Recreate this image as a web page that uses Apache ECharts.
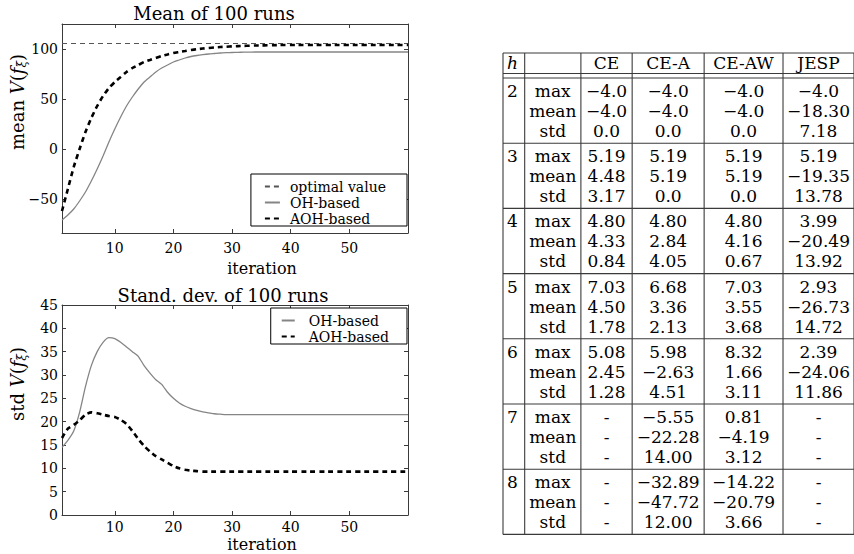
<!DOCTYPE html>
<html>
<head>
<meta charset="utf-8">
<script src="https://cdn.jsdelivr.net/npm/echarts@6/dist/echarts.min.js"></script>
<style>
html, body { margin: 0; padding: 0; background: #fff; }
#chart { width: 854px; height: 554px; }
</style>
</head>
<body>
<div id="chart"></div>
<script>
// values per iteration (1..60)
let meanOH = [-71, -66, -60, -52, -43, -32, -20, -7, 7, 20,
    32, 43, 52, 60, 67, 72, 77, 81, 84, 87,
    89, 91, 92.5, 93.5, 94.3, 95, 95.5, 96, 96.3, 96.5,
    96.7, 96.8, 96.9, 97, 97, 97, 97, 97, 97, 97,
    97, 97, 97, 97, 97, 97, 97, 97, 97, 97,
    97, 97, 97, 97, 97, 97, 97, 97, 97, 97];
let meanAOH = [-62, -40, -18, 0, 17, 31, 43, 53, 61, 67,
    72, 77, 81, 84, 87, 89, 91, 93, 94.5, 96,
    97, 98, 99, 99.8, 100.5, 101, 101.5, 102, 102.3, 102.6,
    102.9, 103.1, 103.3, 103.5, 103.6, 103.7, 103.8, 103.9, 104, 104,
    104, 104, 104, 104, 104, 104, 104, 104, 104, 104,
    104, 104, 104, 104, 104, 104, 104, 104, 104, 104];
let optimalValue = 105.5;
let stdOH = [14.5, 16, 18, 22, 27.5, 32, 35, 37, 38, 37.8,
    37, 36, 35, 34, 32, 30.4, 29, 28, 26.3, 25,
    24, 23.3, 22.8, 22.4, 22.1, 21.9, 21.7, 21.6, 21.5, 21.5,
    21.5, 21.5, 21.5, 21.5, 21.5, 21.5, 21.5, 21.5, 21.5, 21.5,
    21.5, 21.5, 21.5, 21.5, 21.5, 21.5, 21.5, 21.5, 21.5, 21.5,
    21.5, 21.5, 21.5, 21.5, 21.5, 21.5, 21.5, 21.5, 21.5, 21.5];
let stdAOH = [16.5, 18.5, 19.3, 20.3, 21.5, 22, 21.8, 21.5, 21.2, 21,
    20.4, 19.5, 18, 16.3, 14.8, 13.6, 12.6, 11.9, 11.2, 10.5,
    10, 9.7, 9.5, 9.4, 9.3, 9.3, 9.3, 9.3, 9.3, 9.3,
    9.3, 9.3, 9.3, 9.3, 9.3, 9.3, 9.3, 9.3, 9.3, 9.3,
    9.3, 9.3, 9.3, 9.3, 9.3, 9.3, 9.3, 9.3, 9.3, 9.3,
    9.3, 9.3, 9.3, 9.3, 9.3, 9.3, 9.3, 9.3, 9.3, 9.3];
let xTicks = [10, 20, 30, 40, 50];
let meanTicks = [-50, 0, 50, 100];

// table
let tableHead = ['h', '', 'CE', 'CE-A', 'CE-AW', 'JESP'];
let horizons = ['2', '3', '4', '5', '6', '7', '8'];
let statNames = ['max', 'mean', 'std'];
let colCE = ['-4.0', '-4.0', '0.0', '5.19', '4.48', '3.17', '4.80', '4.33', '0.84',
    '7.03', '4.50', '1.78', '5.08', '2.45', '1.28', null, null, null, null, null, null];
let colCEA = ['-4.0', '-4.0', '0.0', '5.19', '5.19', '0.0', '4.80', '2.84', '4.05',
    '6.68', '3.36', '2.13', '5.98', '-2.63', '4.51', '-5.55', '-22.28', '14.00', '-32.89', '-47.72', '12.00'];
let colCEAW = ['-4.0', '-4.0', '0.0', '5.19', '5.19', '0.0', '4.80', '4.16', '0.67',
    '7.03', '3.55', '3.68', '8.32', '1.66', '3.11', '0.81', '-4.19', '3.12', '-14.22', '-20.79', '3.66'];
let colJESP = ['-4.0', '-18.30', '7.18', '5.19', '-19.35', '13.78', '3.99', '-20.49', '13.92',
    '2.93', '-26.73', '14.72', '2.39', '-24.06', '11.86', null, null, null, null, null, null];

const FONT = '"DejaVu Serif"';
const BOX = '#3a3a3a';

// table layout (units = px inside the table grid)
const colEdges = [0, 22, 79, 131, 204, 284, 356];
const headH = 20.5, bodyTop = 25, groupH = 65.2, rowOff = [13, 33, 53];
const tableH = bodyTop + groupH * horizons.length;

function pairs(arr) {
    return arr.map((v, i) => [i + 1, v]);
}
function fmt(s) {
    if (s === null) return '-';
    return s.replace('-', '\u2212');
}
function colMid(c) {
    return (colEdges[c] + colEdges[c + 1]) / 2;
}

// table cells
let cells = [];
tableHead.forEach((t, c) => {
    if (!t) return;
    if (c === 0) cells.push({x: 4, y: headH / 2, text: t, align: 'left', italic: true});
    else cells.push({x: colMid(c), y: headH / 2, text: t, align: 'center'});
});
let valueCols = [colCE, colCEA, colCEAW, colJESP];
horizons.forEach((h, g) => {
    let top = bodyTop + g * groupH;
    cells.push({x: 4, y: top + rowOff[0], text: h, align: 'left'});
    statNames.forEach((s, r) => {
        let y = top + rowOff[r];
        let k = g * 3 + r;
        cells.push({x: colMid(1), y: y, text: s, align: 'center'});
        valueCols.forEach((col, c) => {
            cells.push({x: colMid(c + 2), y: y, text: fmt(col[k]), align: 'center'});
        });
    });
});

// table rules
let rules = [];
[0, headH, bodyTop].forEach(y => rules.push([0, y, colEdges[colEdges.length - 1], y]));
for (let g = 1; g <= horizons.length; g++) {
    let y = bodyTop + g * groupH;
    rules.push([0, y, colEdges[colEdges.length - 1], y]);
}
colEdges.forEach(x => rules.push([x, 0, x, tableH]));

function boxAxes(gridIndex, opts) {
    let common = {
        gridIndex: gridIndex,
        type: 'value',
        axisLine: {show: true, onZero: false, lineStyle: {color: BOX, width: 1}},
        splitLine: {show: false}
    };
    let ticks = (vals) => Object.assign({inside: true, length: 4, lineStyle: {color: BOX}}, vals ? {customValues: vals} : {});
    let xs = [
        Object.assign({}, common, {
            position: 'bottom', min: 1, max: 60,
            axisTick: ticks(xTicks),
            axisLabel: {customValues: xTicks, color: '#000', fontSize: 14, fontFamily: FONT, margin: opts.xMargin}
        }),
        Object.assign({}, common, {
            position: 'top', min: 1, max: 60,
            axisTick: ticks(xTicks),
            axisLabel: {show: false}
        })
    ];
    let yTickVals = opts.yTicks;
    let yBase = {min: opts.ymin, max: opts.ymax};
    if (opts.interval) yBase.interval = opts.interval;
    let ys = [
        Object.assign({}, common, yBase, {
            position: 'left',
            axisTick: ticks(yTickVals),
            axisLabel: Object.assign({
                color: '#000', fontSize: 14, fontFamily: FONT, margin: 4,
                formatter: v => String(v).replace('-', '\u2212')
            }, yTickVals ? {customValues: yTickVals} : {})
        }),
        Object.assign({}, common, yBase, {
            position: 'right',
            axisTick: ticks(yTickVals),
            axisLabel: {show: false}
        })
    ];
    return {xs: xs, ys: ys};
}

let a0 = boxAxes(0, {ymin: -84, ymax: 125, yTicks: meanTicks, xMargin: 8});
let a1 = boxAxes(1, {ymin: 0, ymax: 45, interval: 5, xMargin: 5});

let chart = echarts.init(document.getElementById('chart'), null, {renderer: 'svg'});

let ohStyle = {color: '#858585', width: 1.3, type: 'solid'};
let aohStyle = {color: '#000', width: 2.6, type: [5, 4]};
let legendBase = {
    orient: 'vertical',
    selectedMode: false,
    backgroundColor: '#fff',
    borderColor: '#000',
    borderWidth: 1,
    borderRadius: 0,
    itemGap: 1,
    itemHeight: 15,
    itemStyle: {color: 'rgba(0,0,0,0)', borderWidth: 0, opacity: 0},
    lineStyle: {inactiveWidth: 1},
    textStyle: {fontFamily: FONT, fontSize: 14, color: '#000', lineHeight: 15, padding: [0, 0, 0, 5]}
};

let nameRich = {
    n: {fontFamily: FONT, fontSize: 18, color: '#000', lineHeight: 22},
    i: {fontFamily: FONT, fontSize: 18, fontStyle: 'italic', color: '#000', lineHeight: 22},
    s: {fontFamily: FONT, fontSize: 12, fontStyle: 'italic', color: '#000', lineHeight: 22, verticalAlign: 'bottom'}
};
function label(x, y, text, size, rot, rich) {
    return {
        type: 'text', x: x, y: y, rotation: rot || 0, silent: true,
        style: {
            text: text, rich: rich,
            font: size + 'px ' + FONT, fill: '#000',
            align: 'center', verticalAlign: 'middle',
            textAlign: 'center', textVerticalAlign: 'middle'
        }
    };
}

chart.setOption({
    animation: false,
    textStyle: {fontFamily: FONT},
    grid: [
        {left: 62, top: 24, width: 346, height: 209},
        {left: 62, top: 305, width: 346, height: 210},
        {left: 503, top: 53, width: 356, height: tableH}
    ],
    xAxis: a0.xs.concat(a1.xs, [{gridIndex: 2, type: 'value', min: 0, max: colEdges[colEdges.length - 1], show: false}]),
    yAxis: a0.ys.concat(a1.ys, [{gridIndex: 2, type: 'value', min: 0, max: tableH, inverse: true, show: false}]),
    legend: [
        Object.assign({}, legendBase, {
            data: ['optimal value', 'OH-based', 'AOH-based'],
            right: 447, top: 174, itemWidth: 15,
            padding: [5, 21, 0, 13]
        }),
        Object.assign({}, legendBase, {
            data: ['OH-based', 'AOH-based'],
            right: 447, top: 308, itemWidth: 13,
            padding: [5, 18, 0, 10],
            textStyle: Object.assign({}, legendBase.textStyle, {padding: [0, 0, 0, 9]})
        })
    ],
    graphic: [
        label(214, 13, 'Mean of 100 runs', 18),
        label(223, 295, 'Stand. dev. of 100 runs', 18),
        label(262, 268, 'iteration', 16),
        label(262, 544, 'iteration', 16),
        label(17, 102, '{n|mean }{i|V}{n|(}{i|f}{s|\u03be}{n|)}', 18, Math.PI / 2, nameRich),
        label(17, 384, '{n|std }{i|V}{n|(}{i|f}{s|\u03be}{n|)}', 18, Math.PI / 2, nameRich)
    ],
    series: [
        {
            name: 'optimal value', type: 'line', xAxisIndex: 0, yAxisIndex: 0,
            data: [[1, optimalValue], [60, optimalValue]],
            symbol: 'none', itemStyle: {color: '#555'},
            lineStyle: {color: '#555', width: 1, type: [5, 4]}
        },
        {
            name: 'OH-based', type: 'line', xAxisIndex: 0, yAxisIndex: 0,
            data: pairs(meanOH), symbol: 'none', smooth: 0.2,
            itemStyle: {color: ohStyle.color}, lineStyle: ohStyle
        },
        {
            name: 'AOH-based', type: 'line', xAxisIndex: 0, yAxisIndex: 0,
            data: pairs(meanAOH), symbol: 'none', smooth: 0.2,
            itemStyle: {color: aohStyle.color}, lineStyle: aohStyle
        },
        {
            name: 'OH-based', type: 'line', xAxisIndex: 2, yAxisIndex: 2,
            data: pairs(stdOH), symbol: 'none', smooth: 0.2,
            itemStyle: {color: ohStyle.color}, lineStyle: ohStyle
        },
        {
            name: 'AOH-based', type: 'line', xAxisIndex: 2, yAxisIndex: 2,
            data: pairs(stdAOH), symbol: 'none', smooth: 0.2,
            itemStyle: {color: aohStyle.color}, lineStyle: aohStyle
        },
        {
            name: 'rules', type: 'custom', xAxisIndex: 4, yAxisIndex: 4, silent: true, clip: false,
            data: rules.map(r => [r[0], r[1]]),
            renderItem: function (params, api) {
                let r = rules[params.dataIndex];
                let p1 = api.coord([r[0], r[1]]);
                let p2 = api.coord([r[2], r[3]]);
                return {type: 'line', shape: {x1: p1[0], y1: p1[1], x2: p2[0], y2: p2[1]},
                    style: {stroke: BOX, lineWidth: 1.1}};
            }
        },
        {
            name: 'cells', type: 'custom', xAxisIndex: 4, yAxisIndex: 4, silent: true, clip: false,
            data: cells.map(c => [c.x, c.y]),
            renderItem: function (params, api) {
                let c = cells[params.dataIndex];
                let p = api.coord([c.x, c.y]);
                return {type: 'text', x: p[0], y: p[1],
                    style: {text: c.text, fill: '#000',
                        font: (c.italic ? 'italic ' : '') + '17px ' + FONT,
                        align: c.align, verticalAlign: 'middle',
                        textAlign: c.align, textVerticalAlign: 'middle'}};
            }
        }
    ]
});
</script>
</body>
</html>
